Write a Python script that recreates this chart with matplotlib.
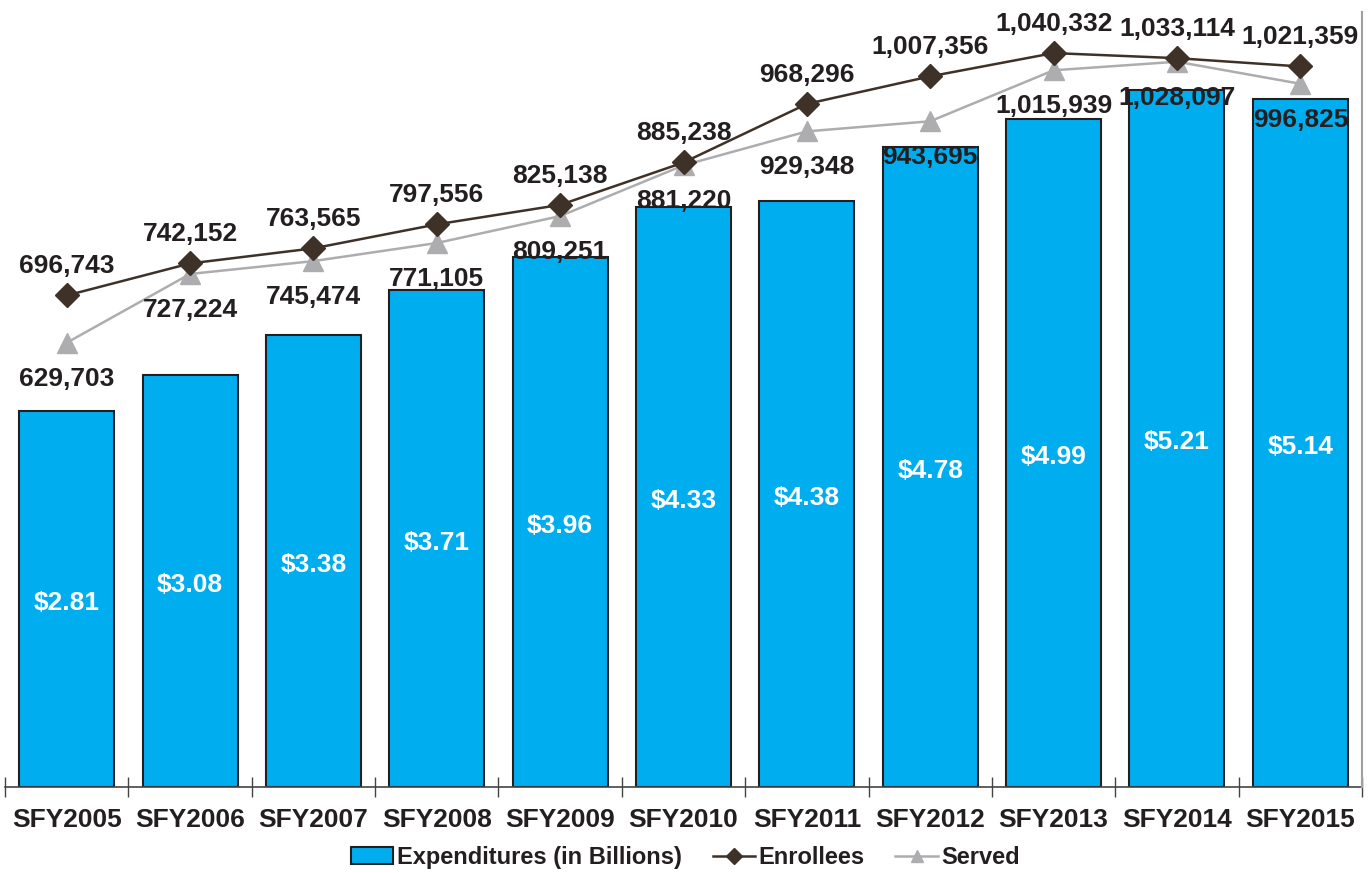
import numpy as np
import matplotlib.pyplot as plt
from matplotlib.patches import Patch
from matplotlib.lines import Line2D

plt.rcParams['font.family'] = ['Liberation Sans', 'DejaVu Sans']
plt.rcParams['font.weight'] = 'bold'

years = ["SFY2005", "SFY2006", "SFY2007", "SFY2008", "SFY2009", "SFY2010",
         "SFY2011", "SFY2012", "SFY2013", "SFY2014", "SFY2015"]
expenditures = [2.81, 3.08, 3.38, 3.71, 3.96, 4.33, 4.38, 4.78, 4.99, 5.21, 5.14]
enrollees = [696743, 742152, 763565, 797556, 825138, 885238, 968296,
             1007356, 1040332, 1033114, 1021359]
served = [629703, 727224, 745474, 771105, 809251, 881220, 929348,
          943695, 1015939, 1028097, 996825]

bar_color = "#00AEEF"
enr_color = "#3D3128"
srv_color = "#ADADB0"
txt_color = "#231F20"

fig = plt.figure(figsize=(13.71, 8.73), dpi=100)
ax = fig.add_axes([0.00365, 0.0985, 0.9898, 0.8877])
x = np.arange(len(years))

ax.bar(x, expenditures, width=0.77, color=bar_color, edgecolor="#231F20", linewidth=1.5, zorder=2)
for xi, v in zip(x, expenditures):
    ax.text(xi, v / 2 - 0.03, f"${v:.2f}", ha="center", va="center", color="white",
            fontsize=19, fontweight="bold", zorder=3)

ax.set_xlim(-0.5, len(years) - 0.5)
ax.set_ylim(0, 5.79)
ax.set_yticks([])
ax.set_xticks(x)
ax.set_xticklabels(years, fontsize=19, fontweight="bold", color=txt_color)
ax.set_xticks(np.arange(-0.5, len(years)), minor=True)
ax.tick_params(axis="x", which="major", length=0, pad=15)
ax.tick_params(axis="x", which="minor", length=15, direction="inout", color="#444444", width=1)
for s in ["left", "top", "right"]:
    ax.spines[s].set_visible(False)
ax.spines["bottom"].set_color("#444444")
ax.spines["bottom"].set_linewidth(1.2)

ax2 = ax.twinx()
ax2.set_ylim(0, 1098500)
ax2.set_yticks([])
for s in ["left", "top", "bottom"]:
    ax2.spines[s].set_visible(False)
ax2.spines["right"].set_color("#A0A0A0")
ax2.spines["right"].set_linewidth(1.5)

ax2.plot(x, served, color=srv_color, lw=1.8, marker="^", markersize=14, zorder=3)
ax2.plot(x, enrollees, color=enr_color, lw=1.8, marker="D", markersize=12, zorder=4)

for xi, v in zip(x, enrollees):
    ax2.annotate(f"{v:,}", (xi, v), xytext=(0, 21), textcoords="offset points",
                 ha="center", va="center", fontsize=19, fontweight="bold", color=txt_color, zorder=5)
for xi, v in zip(x, served):
    ax2.annotate(f"{v:,}", (xi, v), xytext=(0, -26), textcoords="offset points",
                 ha="center", va="center", fontsize=19, fontweight="bold", color=txt_color, zorder=5)

handles = [
    Patch(facecolor=bar_color, edgecolor="#231F20", linewidth=1.5, label="Expenditures (in Billions)"),
    Line2D([], [], color=enr_color, lw=1.8, marker="D", markersize=8, label="Enrollees"),
    Line2D([], [], color=srv_color, lw=1.8, marker="^", markersize=9, label="Served"),
]
fig.legend(handles=handles, loc="center", bbox_to_anchor=(0.5, 0.018), ncol=3, frameon=False,
           prop={"size": 17, "weight": "bold"}, handlelength=1.8, handletextpad=0.15,
           columnspacing=1.3, labelcolor=txt_color)

fig.savefig("out.png", dpi=100)
